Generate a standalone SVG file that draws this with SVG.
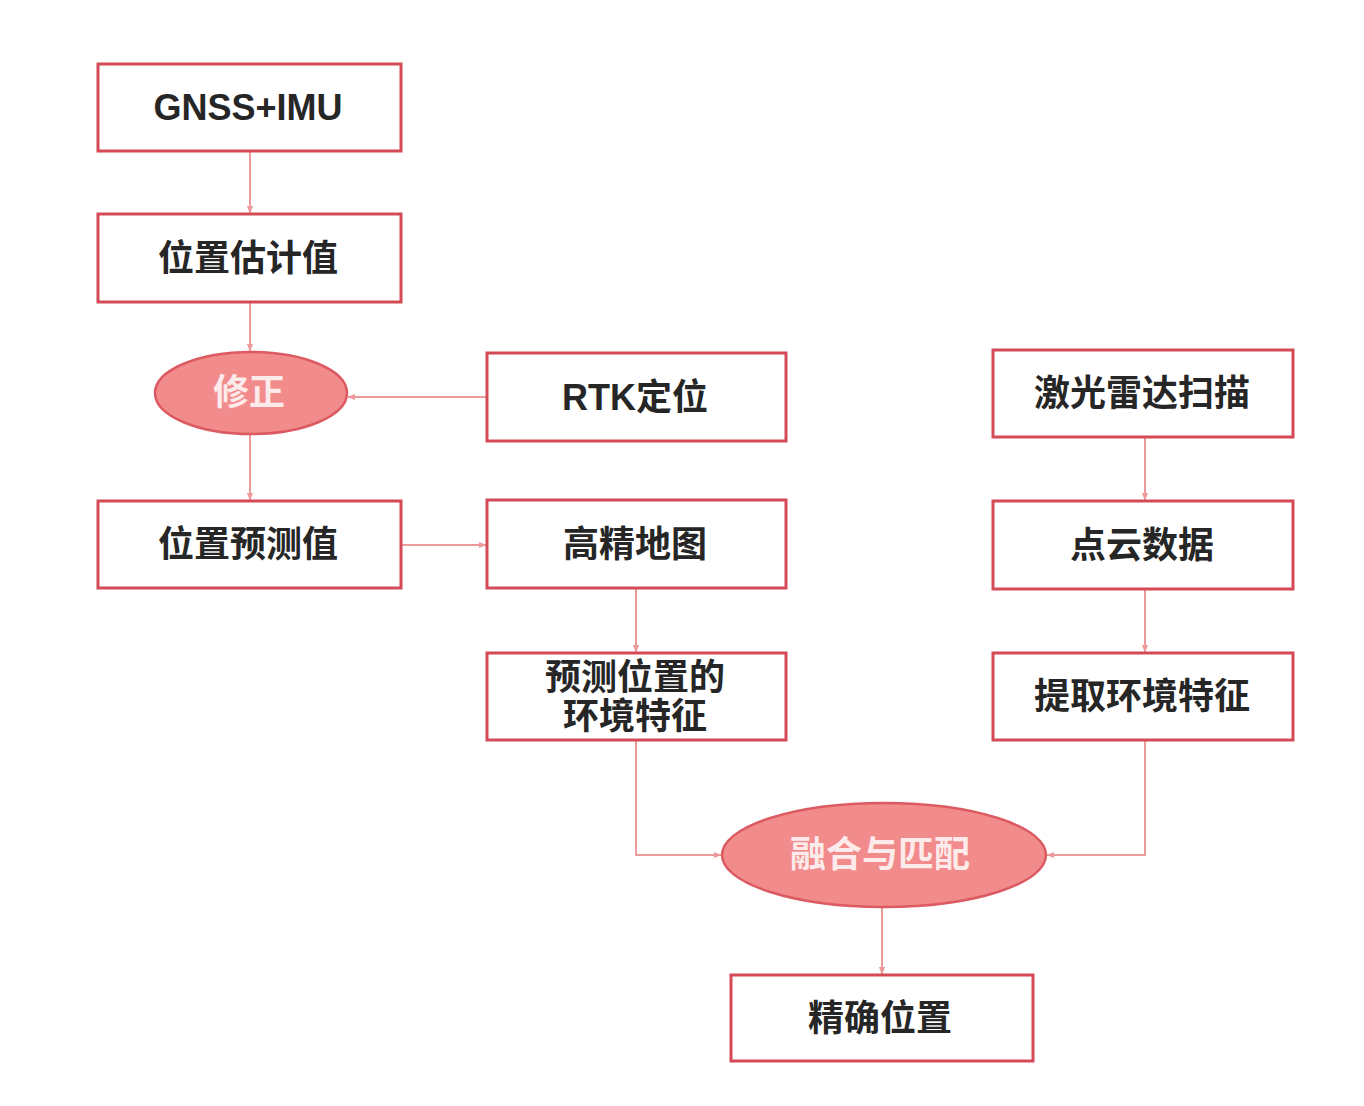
<svg xmlns="http://www.w3.org/2000/svg" width="1364" height="1106" viewBox="0 0 1364 1106">
<defs>
<marker id="ah" viewBox="0 0 10 10" refX="9" refY="5" markerWidth="8" markerHeight="8" orient="auto" markerUnits="userSpaceOnUse">
<path d="M0,1 L10,5 L0,9 z" fill="#ee9a9a"/>
</marker>
<style>
.box{fill:#ffffff;stroke:#d44a56;stroke-width:3}
.ell{fill:#f28b8b;stroke:#dc5a62;stroke-width:2.5}
.t{font-family:"Liberation Sans","Noto Sans CJK SC",sans-serif;font-size:36px;font-weight:bold;fill:#262626;text-anchor:middle;dominant-baseline:central}
.tw{font-family:"Liberation Sans","Noto Sans CJK SC",sans-serif;font-size:36px;font-weight:bold;fill:#fdeaea;text-anchor:middle;dominant-baseline:central}
.c{fill:none;stroke:#ee9a9a;stroke-width:2;marker-end:url(#ah)}
</style>
</defs>
<rect width="1364" height="1106" fill="#ffffff"/>
<g id="connectors">
<path class="c" d="M250,151 L250,213"/>
<path class="c" d="M250,302 L250,351"/>
<path class="c" d="M487,397 L348,397"/>
<path class="c" d="M250,435 L250,500"/>
<path class="c" d="M401,545 L486,545"/>
<path class="c" d="M636,588 L636,652"/>
<path class="c" d="M636,740 L636,855 L721,855"/>
<path class="c" d="M1145,437 L1145,500"/>
<path class="c" d="M1145,589 L1145,652"/>
<path class="c" d="M1145,740 L1145,855 L1047,855"/>
<path class="c" d="M882,908 L882,974"/>
</g>
<g id="n-gnss"><rect class="box" x="98" y="64" width="303" height="87"/><text class="t" x="248" y="107">GNSS+IMU</text></g>
<g id="n-est"><rect class="box" x="98" y="214" width="303" height="88"/><text class="t" x="248" y="258">位置估计值</text></g>
<g id="n-fix"><ellipse class="ell" cx="251" cy="393" rx="96" ry="41"/><text class="tw" x="249" y="392">修正</text></g>
<g id="n-rtk"><rect class="box" x="487" y="353" width="299" height="88"/><text class="t" x="635" y="397">RTK定位</text></g>
<g id="n-pred"><rect class="box" x="98" y="501" width="303" height="87"/><text class="t" x="248" y="544">位置预测值</text></g>
<g id="n-map"><rect class="box" x="487" y="500" width="299" height="88"/><text class="t" x="635" y="544">高精地图</text></g>
<g id="n-envpred"><rect class="box" x="487" y="653" width="299" height="87"/><text class="t" x="635" y="677">预测位置的</text><text class="t" x="635" y="716">环境特征</text></g>
<g id="n-lidar"><rect class="box" x="993" y="350" width="300" height="87"/><text class="t" x="1142" y="393">激光雷达扫描</text></g>
<g id="n-cloud"><rect class="box" x="993" y="501" width="300" height="88"/><text class="t" x="1142" y="545">点云数据</text></g>
<g id="n-extract"><rect class="box" x="993" y="653" width="300" height="87"/><text class="t" x="1142" y="696">提取环境特征</text></g>
<g id="n-fuse"><ellipse class="ell" cx="884" cy="855" rx="162" ry="52"/><text class="tw" x="880" y="854">融合与匹配</text></g>
<g id="n-precise"><rect class="box" x="731" y="975" width="302" height="86"/><text class="t" x="880" y="1018">精确位置</text></g>
</svg>
